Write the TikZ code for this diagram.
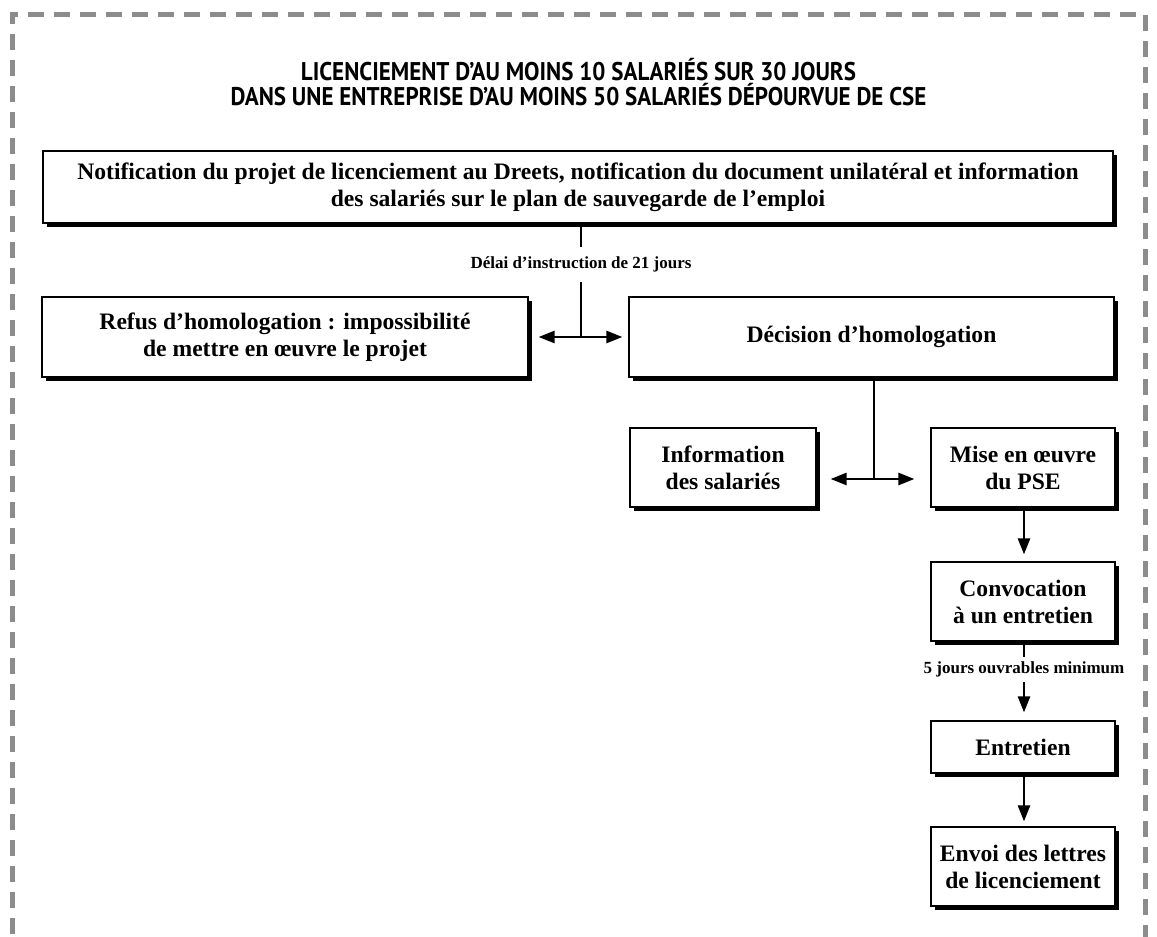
\documentclass[tikz,border=0pt]{standalone}
\usepackage{fontspec}
\setmainfont{Liberation Serif}
\newfontfamily\titrefont[FakeStretch=0.9, BoldFont={PT Sans Bold}]{PT Sans}
\usetikzlibrary{shadows}
\usetikzlibrary{arrows.meta}
\definecolor{grisbord}{HTML}{8C8C8C}
\newcommand{\boite}[6]{\node[boite, minimum width=#4*0.5pt, minimum height=#5*0.5pt] (#1) at ( #2 , #3 ) {#6};}

\begin{document}
\begin{tikzpicture}[x=0.5pt, y=-0.5pt,
    boite/.style={draw=black, line width=0.6pt, fill=white, align=center, inner sep=0pt,
        font=\fontsize{11.8}{13.5}\selectfont\bfseries,
        drop shadow={shadow xshift=2pt, shadow yshift=-2pt, opacity=1, fill=black}},
    delai/.style={inner sep=0pt, fill=white, font=\fontsize{8.5}{10}\selectfont\bfseries},
    trait/.style={line width=1.3pt},
    fleche/.style={trait, -{Triangle[length=8pt, width=6pt]}},
    double fleche/.style={trait, {Triangle[length=8pt, width=6pt]}-{Triangle[length=8pt, width=6pt]}}]
    \useasboundingbox (0,0) rectangle (1157,937);
    % cadre
    \begin{scope}
        \clip (0,0) rectangle (1157,937);
        \draw[grisbord, line width=2.5pt, dash pattern=on 8pt off 5pt] (12,960) -- (12,14) -- (1145,14) -- (1145,960);
    \end{scope}
    % titre
    \node[align=center, font=\titrefont\bfseries\fontsize{12.8}{12.5}\selectfont] (titre) at (578.5,82)
        {LICENCIEMENT D’AU MOINS 10 SALARIÉS SUR 30 JOURS\\DANS UNE ENTREPRISE D’AU MOINS 50 SALARIÉS DÉPOURVUE DE CSE};
    % projet
    \boite{notif}{578}{187}{1070}{72}{Notification du projet de licenciement au Dreets, notification du document unilatéral et information\\des salariés sur le plan de sauvegarde de l’emploi}
    \coordinate (j1) at (581,337);
    % decision
    \boite{refus}{285}{337}{486}{80}{Refus d’homologation : impossibilité\\de mettre en œuvre le projet}
    \boite{decis}{871.5}{337}{485}{80}{Décision d’homologation}
    \coordinate (j2) at (874,479);
    % suite
    \boite{info}{723}{467.5}{186}{79}{Information\\des salariés}
    \boite{mise}{1023}{467.5}{184}{79}{Mise en œuvre\\du PSE}
    \boite{convoc}{1023}{601.5}{184}{79}{Convocation\\à un entretien}
    \boite{entretien}{1023}{747}{184}{52}{Entretien}
    \boite{envoi}{1023}{866.5}{184}{79}{Envoi des lettres\\de licenciement}
    % liaisons
    \draw[trait] (notif.south -| j1) -- (j1);
    \node[delai, minimum height=17.5pt] (instr) at (581,264) {Délai d’instruction de 21 jours};
    \draw[double fleche, shorten <=5pt, shorten >=3pt] (refus.east) -- (decis.west);
    \draw[trait] (decis.south -| j2) -- (j2);
    \draw[double fleche, shorten <=7pt, shorten >=8pt] (info.east |- j2) -- (mise.west |- j2);
    \draw[fleche, shorten >=3.5pt] (mise.south -| 1024,0) -- (convoc.north -| 1024,0);
    \draw[fleche, shorten >=4pt] (convoc.south -| 1024,0) -- (entretien.north -| 1024,0);
    \node[delai, minimum height=12.5pt] (cinq) at (1024,669.5) {5 jours ouvrables minimum};
    \draw[fleche, shorten >=2.5pt] (entretien.south -| 1024,0) -- (envoi.north -| 1024,0);
\end{tikzpicture}
\end{document}
